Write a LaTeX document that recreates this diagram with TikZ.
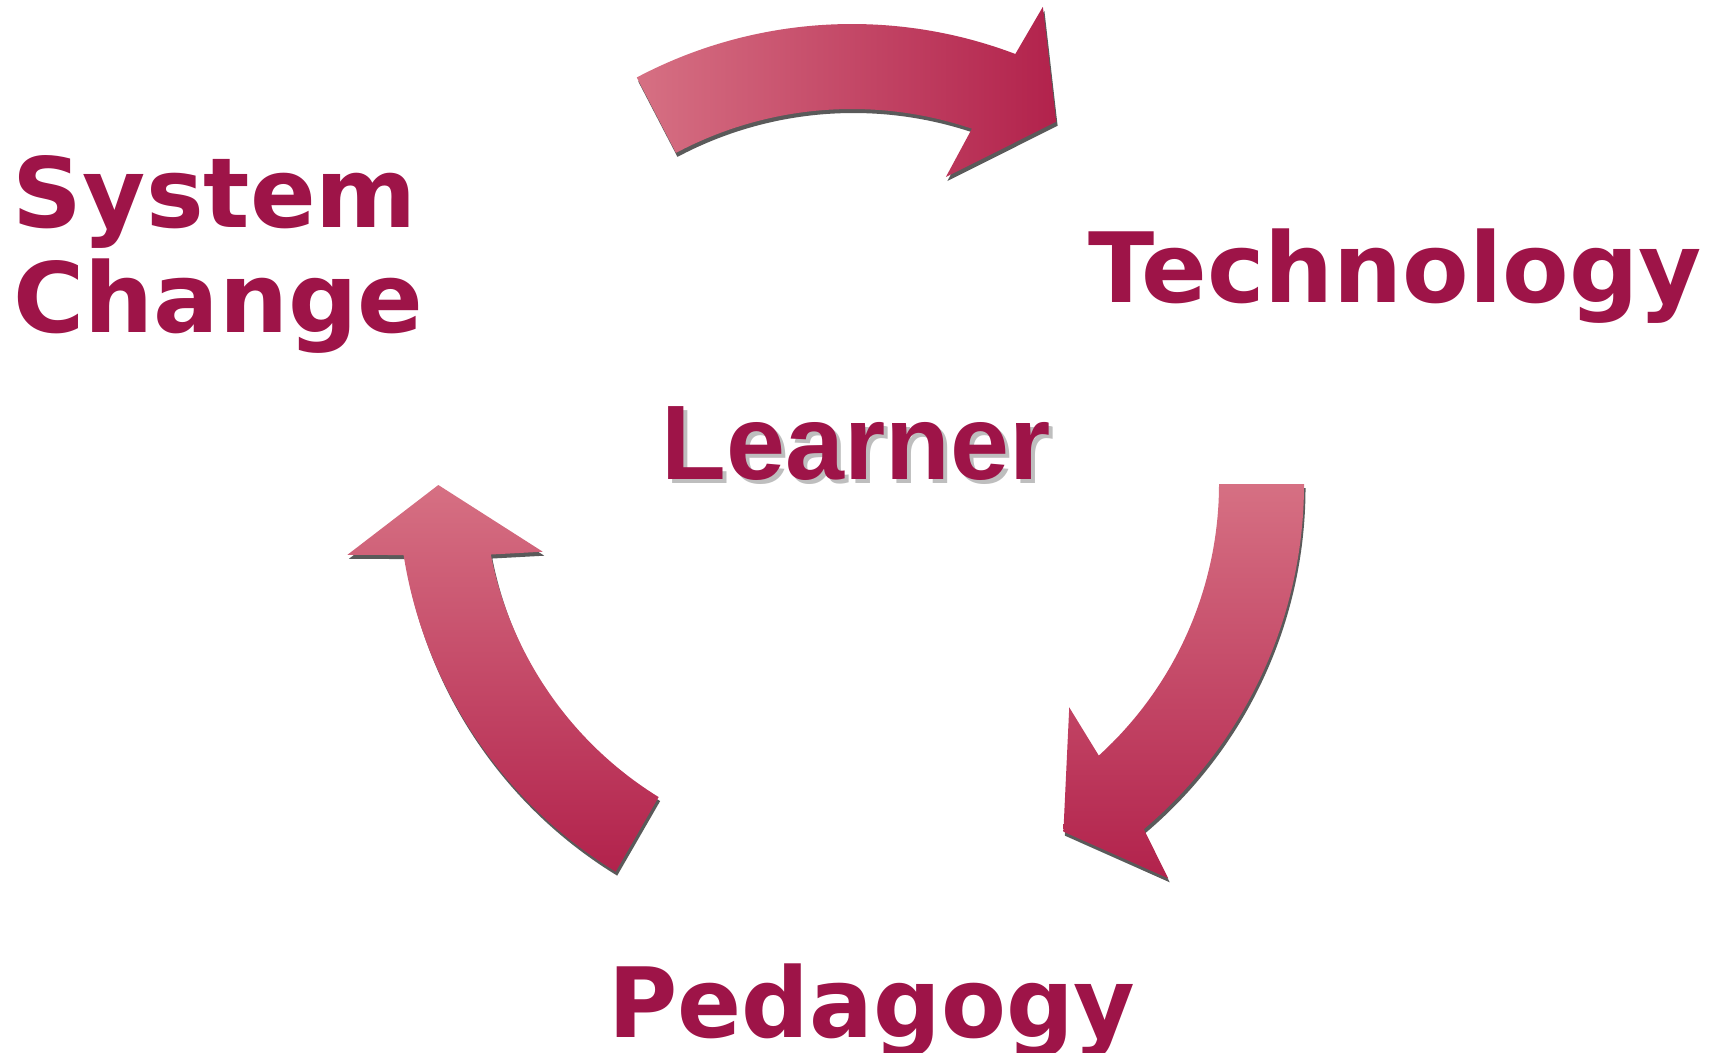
\documentclass[tikz,border=0pt]{standalone}
\usepackage{fontspec}
\usepackage{graphicx}
\newfontfamily\vfont{DejaVu Sans}
\newfontfamily\afont{Liberation Sans Bold}
\definecolor{txt}{RGB}{158,20,72}
\definecolor{arlight}{RGB}{214,112,131}
\definecolor{ardark}{RGB}{178,34,76}
\definecolor{shad}{RGB}{90,90,90}
\definecolor{lshadow}{RGB}{190,190,190}
\newcommand\topArrowPath{(-117.9:460) arc[start angle=-117.9, end angle=-69.2, radius=460] -- (-68.2:514) -- (-60.6:415.8) -- (-73:321) -- (-71.35:375) arc[start angle=-71.35, end angle=-118, radius=375] -- cycle}
\newcommand\rightArrowPath{(0:452) arc[start angle=0, end angle=49.8, radius=452] -- (51.27:505.5) -- (58.7:406.9) -- (45.8:311.6) -- (47.74:367) arc[start angle=47.74, end angle=0, radius=367] -- cycle}
\newcommand\leftArrowPath{(179.86:413.7) -- (172:509.7) -- (171:454) arc[start angle=171, end angle=121.37, radius=454] -- (121.7:368) arc[start angle=121.7, end angle=168.95, radius=368] -- (167.65:316.6) -- cycle}
\begin{document}
\begin{tikzpicture}[x=0.5pt,y=-0.5pt,
  lbl/.style={inner sep=0pt, anchor=base, text=txt, font=\vfont\bfseries\fontsize{48.5}{52}\selectfont},
  lrn/.style={inner sep=0pt, anchor=base, font=\afont\fontsize{53}{60}\selectfont},
  arrowshadow/.style={fill=shad}]
\useasboundingbox (0,0) rectangle (1717,1053);
\coordinate (C) at (852,484);
% shadows of the arrows
\begin{scope}[shift={(853.5,488)}]
  \fill[arrowshadow] \topArrowPath;
  \fill[arrowshadow] \rightArrowPath;
  \fill[arrowshadow] \leftArrowPath;
\end{scope}
% arrows
\begin{scope}[shift={(852,484)}]
  \shade[left color=arlight, right color=ardark] \topArrowPath;
  \shade[top color=arlight, bottom color=ardark] \rightArrowPath;
  \shade[top color=arlight, bottom color=ardark] \leftArrowPath;
\end{scope}
% labels
\node[lbl] (technology) at (1395,303) {Technology};
\node[lbl] (system) at (215,228) {System};
\node[lbl] (change) at (218.5,332.5) {Change};
\node[lbl] (pedagogy) at (872,1037) {\scalebox{0.975}[1]{Pedagogy}};
\node[lrn, text=lshadow] (learnershadow) at (860,483) {Learner};
\node[lrn, text=txt] (learner) at (856,479) {Learner};
\end{tikzpicture}
\end{document}
